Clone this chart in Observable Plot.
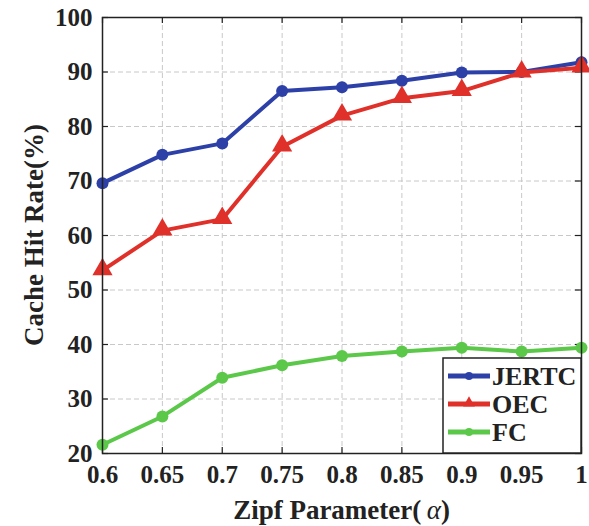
<!DOCTYPE html>
<html>
<head>
<meta charset="utf-8">
<script src="https://cdn.jsdelivr.net/npm/d3@7"></script>
<script src="https://cdn.jsdelivr.net/npm/@observablehq/plot@0.6"></script>
<style>
  html, body { margin: 0; padding: 0; background: #fff; }
</style>
</head>
<body>
<div id="chart"></div>
<script>
const alphas = [0.6, 0.65, 0.7, 0.75, 0.8, 0.85, 0.9, 0.95, 1];
const jertc = [69.6, 74.8, 76.9, 86.5, 87.2, 88.4, 89.9, 90.0, 91.8];
const oec   = [53.6, 60.9, 63.0, 76.3, 82.0, 85.2, 86.5, 89.9, 90.8];
const fc    = [21.6, 26.8, 33.9, 36.2, 37.9, 38.7, 39.4, 38.7, 39.4];
const xTicks = [0.6, 0.65, 0.7, 0.75, 0.8, 0.85, 0.9, 0.95, 1];
const xTickLabels = ["0.6", "0.65", "0.7", "0.75", "0.8", "0.85", "0.9", "0.95", "1"];
const yTicks = [20, 30, 40, 50, 60, 70, 80, 90, 100];
const seriesNames = ["JERTC", "OEC", "FC"];
const seriesColors = ["#2c40a8", "#e0302a", "#5cc84a"];
const seriesSymbols = ["circle", "triangle", "circle"];
const seriesValues = [jertc, oec, fc];

const rows = [];
seriesNames.forEach((name, i) => {
  alphas.forEach((a, j) => rows.push({series: name, alpha: a, value: seriesValues[i][j]}));
});

const W = 589, H = 526;
const mL = 102, mR = 8, mT = 17, mB = 73;
const pw = W - mL - mR, ph = H - mT - mB;
const FONT_CSS = '"Liberation Serif"';

const plot = Plot.plot({
  width: W,
  height: H,
  marginLeft: mL,
  marginRight: mR,
  marginTop: mT,
  marginBottom: mB,
  style: {fontWeight: "bold", fontSize: "25px", color: "#222", background: "#fff"},
  x: {domain: [0.6, 1], ticks: xTicks, label: null},
  y: {domain: [20, 100], ticks: yTicks, label: null},
  color: {domain: seriesNames, range: seriesColors},
  marks: [
    Plot.gridX(xTicks, {stroke: "#c8c8c8", strokeOpacity: 1, strokeDasharray: "5,3", strokeWidth: 1}),
    Plot.gridY(yTicks, {stroke: "#c8c8c8", strokeOpacity: 1, strokeDasharray: "5,3", strokeWidth: 1}),
    Plot.axisX(xTicks, {tickSize: 0, tickPadding: 12, tickFormat: (d) => xTickLabels[xTicks.indexOf(d)], label: null}),
    Plot.axisY(yTicks, {tickSize: 0, tickPadding: 10, label: null}),
    // inside ticks (MATLAB style)
    Plot.tickY(yTicks, {y: (d) => d, insetRight: pw - 6, stroke: "#222", strokeWidth: 1.2}),
    Plot.tickY(yTicks, {y: (d) => d, insetLeft: pw - 6, stroke: "#222", strokeWidth: 1.2}),
    Plot.tickX(xTicks, {x: (d) => d, insetTop: ph - 6, stroke: "#222", strokeWidth: 1.2}),
    Plot.tickX(xTicks, {x: (d) => d, insetBottom: ph - 6, stroke: "#222", strokeWidth: 1.2}),
    Plot.line(rows, {x: "alpha", y: "value", z: "series", stroke: "series", strokeWidth: 4}),
    Plot.dot(rows.filter(d => d.series === "JERTC"), {x: "alpha", y: "value", fill: "series", r: 6, symbol: "circle"}),
    Plot.dot(rows.filter(d => d.series === "FC"), {x: "alpha", y: "value", fill: "series", r: 6, symbol: "circle"}),
    Plot.dot(rows.filter(d => d.series === "OEC"), {x: "alpha", y: "value", fill: "series", r: 7.5, symbol: "triangle", dy: -1}),
    Plot.frame({stroke: "#222", strokeWidth: 1.5})
  ]
});

plot.removeAttribute("font-family");
document.getElementById("chart").appendChild(plot);

const svg = d3.select(plot);

// axis labels
const xl = svg.append("text")
  .attr("x", mL + pw / 2)
  .attr("y", 519)
  .attr("text-anchor", "middle")
  .attr("font-size", 27)
  .attr("font-weight", "bold")
  .attr("fill", "#222");
xl.append("tspan").text("Zipf Parameter(");
xl.append("tspan").text("\u2009α").attr("font-style", "italic").attr("font-weight", "normal");
xl.append("tspan").text(")");

svg.append("text")
  .attr("transform", `translate(43, ${mT + ph / 2}) rotate(-90)`)
  .attr("text-anchor", "middle")
  .attr("font-size", 27)
  .attr("font-weight", "bold")
  .attr("fill", "#222")
  .text("Cache Hit Rate(%)");

// legend inside plot (bottom-right)
const lx = 443, ly = 358, lw = 581 - 443, lh = 453 - 358;
const lg = svg.append("g");
lg.append("rect").attr("x", lx).attr("y", ly).attr("width", lw).attr("height", lh)
  .attr("fill", "#fff").attr("stroke", "#222").attr("stroke-width", 1.5);
const legendY = [376, 404, 432];
const symGen = {circle: d3.symbolCircle, triangle: d3.symbolTriangle};
seriesNames.forEach((name, i) => {
  const y = legendY[i];
  lg.append("line").attr("x1", 448).attr("x2", 490).attr("y1", y).attr("y2", y)
    .attr("stroke", seriesColors[i]).attr("stroke-width", 5);
  lg.append("path")
    .attr("transform", `translate(469, ${y - (seriesSymbols[i] === "triangle" ? 1 : 0)})`)
    .attr("d", d3.symbol(symGen[seriesSymbols[i]], seriesSymbols[i] === "triangle" ? 60 : 50)())
    .attr("fill", seriesColors[i]);
  lg.append("text").attr("x", 492).attr("y", y).attr("dy", "0.35em")
    .attr("text-anchor", "start")
    .attr("font-size", 26).attr("font-weight", "bold")
    .attr("fill", "#222").text(name);
});

// set the serif font directly on every text element as an inline style
plot.querySelectorAll("text").forEach((t) => { t.style.fontFamily = FONT_CSS; });
</script>
</body>
</html>
